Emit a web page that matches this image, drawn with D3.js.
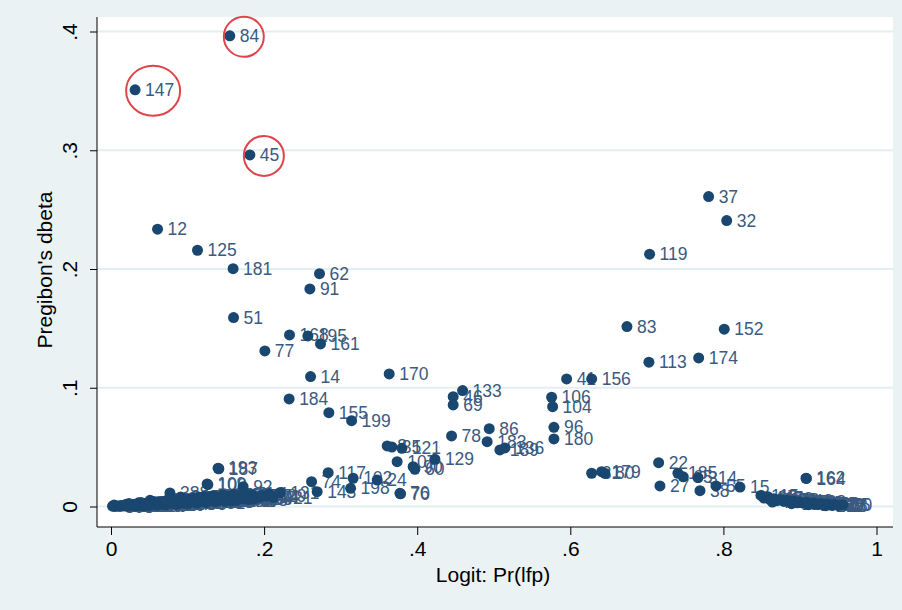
<!DOCTYPE html>
<html>
<head>
<meta charset="utf-8">
<script src="https://cdn.jsdelivr.net/npm/d3@7"></script>
<style>
  body { margin: 0; background: #eaf2f3; }
  text { font-family: Arial, "Liberation Sans", sans-serif; }
</style>
</head>
<body>
<div id="chart"></div>
<script>
// observation number (marker label), predicted Pr(lfp), Pregibon's dbeta
const obsId = [
    84, 147, 45, 37, 32, 12, 125, 181, 119, 62, 91, 51, 83, 152, 168, 195, 161, 77, 174, 113,
    170, 14, 41, 156, 133, 106, 46, 184, 69, 104, 155, 199, 96, 86, 78, 180, 183, 8, 35, 136,
    121, 189, 129, 107, 22, 90, 193, 187, 60, 179, 117, 31, 80, 185, 65, 102, 162, 164, 24, 314,
    74, 109, 100, 27, 55, 15, 92, 198, 38, 143, 76, 70,
    // bottom left cluster
    411, 593, 302, 688, 257, 470, 639, 226, 515, 380, 722, 448, 291, 604, 356, 537, 213, 669, 402, 585,
    248, 731, 466, 320, 557, 209, 612, 388, 497, 274, 653, 433, 336, 578, 219, 706, 459, 285, 541, 397,
    624, 232, 508, 361, 692, 417, 268, 573, 444, 329, 645, 203, 486, 372, 599, 241, 527, 311, 714, 455,
    5, 237, 67, 1, 421, 131,
    299, 618, 384, 702, 251, 539, 406, 663, 315, 580, 222, 494, 371, 646, 283, 528, 439, 697, 343, 617,
    264, 556, 404, 729,
    // bottom right cluster
    115, 447, 47, 603, 173, 520, 178, 392, 26, 640, 142, 483, 57, 711, 188, 366, 28, 552, 138, 429,
    98, 675, 88, 18, 10, 751, 126, 694, 212
];
const prLfp = [
    .1552, .0315, .1814, .7807, .8043, .0608, .1130, .1595, .7036, .2724, .2598, .1601, .6740, .8011, .2332, .2572, .2737, .2010, .7677, .7027,
    .3634, .2607, .5952, .6279, .4593, .5756, .4470, .2327, .4470, .5769, .2846, .3143, .5786, .4941, .4449, .5786, .4914, .3608, .3669, .5146,
    .3800, .5080, .4231, .3738, .7154, .3947, .1399, .1409, .3970, .6409, .2837, .6279, .6452, .7406, .7476, .3163, .9079, .9085, .3477, .7668,
    .2620, .1256, .1265, .7171, .7903, .8216, .1726, .3130, .7694, .2693, .3774, .3783,
    .002, .005, .007, .010, .013, .015, .018, .021, .023, .026, .030, .032, .035, .038, .040, .044, .046, .049, .051, .054,
    .057, .060, .063, .066, .069, .072, .074, .077, .080, .083, .086, .088, .091, .094, .097, .100, .103, .106, .109, .112,
    .115, .118, .121, .124, .127, .130, .133, .136, .139, .142, .146, .149, .152, .156, .160, .164, .168, .172, .176, .180,
    .184, .189, .197, .207, .212, .221,
    .004, .012, .020, .028, .036, .043, .052, .061, .070, .079, .087, .095, .104, .113, .122, .131, .140, .148, .157, .166,
    .175, .186, .195, .204,
    .849, .853, .858, .861, .866, .870, .874, .879, .883, .887, .892, .896, .900, .905, .909, .914, .918, .923, .927, .932,
    .936, .941, .945, .950, .956, .864, .889, .911, .934
];
const dbeta = [
    .3964, .3509, .2961, .2610, .2408, .2335, .2158, .2003, .2125, .1961, .1832, .1591, .1515, .1493, .1445, .1436, .1369, .1310, .1251, .1215,
    .1116, .1094, .1074, .1074, .0976, .0920, .0925, .0906, .0855, .0841, .0790, .0723, .0667, .0655, .0594, .0569, .0546, .0510, .0501, .0493,
    .0490, .0476, .0398, .0377, .0369, .0335, .0322, .0318, .0313, .0293, .0285, .0280, .0280, .0280, .0250, .0238, .0238, .0236, .0223, .0244,
    .0209, .0190, .0185, .0173, .0173, .0164, .0167, .0153, .0133, .0125, .0111, .0107,
    .0003, .0001, .0006, .0002, .0009, .0004, .0011, .0002, .0014, .0007, .0017, .0005, .0020, .0009, .0024, .0012, .0028, .0008, .0052, .0016,
    .0033, .0011, .0037, .0021, .0043, .0015, .0047, .0114, .0026, .0051, .0019, .0056, .0081, .0032, .0061, .0023, .0066, .0037, .0072, .0028,
    .0077, .0043, .0084, .0034, .0073, .0048, .0090, .0039, .0081, .0054, .0096, .0045, .0087, .0059, .0101, .0051, .0092, .0065, .0106, .0058,
    .0098, .0071, .0092, .0106, .0075, .0118,
    .0012, .0003, .0019, .0010, .0031, .0006, .0027, .0040, .0018, .0035, .0062, .0029, .0050, .0041, .0058, .0066, .0052, .0070, .0047, .0075,
    .0083, .0064, .0080, .0088,
    .0093, .0071, .0082, .0058, .0066, .0049, .0060, .0043, .0052, .0037, .0046, .0031, .0040, .0027, .0035, .0022, .0030, .0018, .0025, .0014,
    .0021, .0011, .0017, .0008, .0012, .0038, .0024, .0015, .0007
];

const xTicks = [0, .2, .4, .6, .8, 1];
const xTickLabels = ["0", ".2", ".4", ".6", ".8", "1"];
const yTicks = [0, .1, .2, .3, .4];
const yTickLabels = ["0", ".1", ".2", ".3", ".4"];

// influential observations circled in red
const circledObs = [147, 84, 45];

const width = 902, height = 610;
const plot = {left: 97, right: 893, top: 17, bottom: 527};
const markerColor = "#1a476f";
const labelColor = "#3a5a80";

const svg = d3.select("#chart")
    .append("svg")
    .attr("width", width)
    .attr("height", height);

svg.append("rect")
    .attr("width", width)
    .attr("height", height)
    .attr("fill", "#eaf2f3");

svg.append("rect")
    .attr("x", plot.left)
    .attr("y", plot.top)
    .attr("width", plot.right - plot.left)
    .attr("height", plot.bottom - plot.top)
    .attr("fill", "white");

const xScale = d3.scaleLinear()
    .domain([0, 1])
    .range([111, 876.5]);

const yScale = d3.scaleLinear()
    .domain([0, .4])
    .range([506.5, 31.5]);

// horizontal grid lines
svg.selectAll(".grid")
    .data(yTicks)
    .enter().append("line")
    .attr("class", "grid")
    .attr("x1", plot.left)
    .attr("x2", plot.right)
    .attr("y1", d => yScale(d))
    .attr("y2", d => yScale(d))
    .attr("stroke", "#e4eef0")
    .attr("stroke-width", 2);

// Add x-axis
const xAxis = svg.append("g")
    .attr("transform", `translate(0,${plot.bottom})`)
    .call(d3.axisBottom(xScale)
        .tickValues(xTicks)
        .tickFormat((d, i) => xTickLabels[i])
        .tickSize(8)
        .tickPadding(6));
xAxis.select(".domain").remove();
xAxis.selectAll("text")
    .attr("fill", "black")
    .style("font-size", "21px");

// Add y-axis
const yAxis = svg.append("g")
    .attr("transform", `translate(${plot.left},0)`)
    .call(d3.axisLeft(yScale)
        .tickValues(yTicks)
        .tickFormat((d, i) => yTickLabels[i])
        .tickSize(7));
yAxis.select(".domain").remove();
yAxis.selectAll("text")
    .attr("transform", "rotate(-90)")
    .attr("x", 0)
    .attr("y", -20)
    .attr("dy", 0)
    .attr("text-anchor", "middle")
    .attr("fill", "black")
    .style("font-size", "21px");

svg.append("line")
    .attr("x1", plot.left).attr("x2", plot.right)
    .attr("y1", plot.bottom).attr("y2", plot.bottom)
    .attr("stroke", "black");
svg.append("line")
    .attr("x1", plot.left).attr("x2", plot.left)
    .attr("y1", plot.top).attr("y2", plot.bottom)
    .attr("stroke", "black");

// axis titles
svg.append("text")
    .attr("x", 493)
    .attr("y", 582)
    .attr("text-anchor", "middle")
    .style("font-size", "21px")
    .text("Logit: Pr(lfp)");

svg.append("text")
    .attr("transform", "translate(52,270) rotate(-90)")
    .attr("text-anchor", "middle")
    .style("font-size", "21px")
    .text("Pregibon's dbeta");

// points, each marker drawn with its label, left to right
const points = obsId.map((id, i) => ({id: id, x: prLfp[i], y: dbeta[i]}))
    .sort((a, b) => a.x - b.x);

const pt = svg.selectAll(".pt")
    .data(points)
    .enter().append("g")
    .attr("class", "pt")
    .attr("transform", d => `translate(${xScale(d.x)},${yScale(d.y)})`);

pt.append("circle")
    .attr("r", 5.5)
    .attr("fill", markerColor);

pt.append("text")
    .attr("x", 10)
    .attr("dy", "0.35em")
    .attr("fill", labelColor)
    .style("font-size", "17.5px")
    .text(d => d.id);

// red circles round the influential points
const circled = points.filter(d => circledObs.includes(d.id));
svg.selectAll(".ring")
    .data(circled)
    .enter().append("ellipse")
    .attr("class", "ring")
    .attr("cx", d => xScale(d.x) + 14 + (String(d.id).length - 2) * 4)
    .attr("cy", d => yScale(d.y) + 1)
    .attr("rx", d => 20 + (String(d.id).length - 2) * 7)
    .attr("ry", d => 20 + (String(d.id).length - 2) * 5)
    .attr("fill", "none")
    .attr("stroke", "#e0434a")
    .attr("stroke-width", 2);
</script>
</body>
</html>
